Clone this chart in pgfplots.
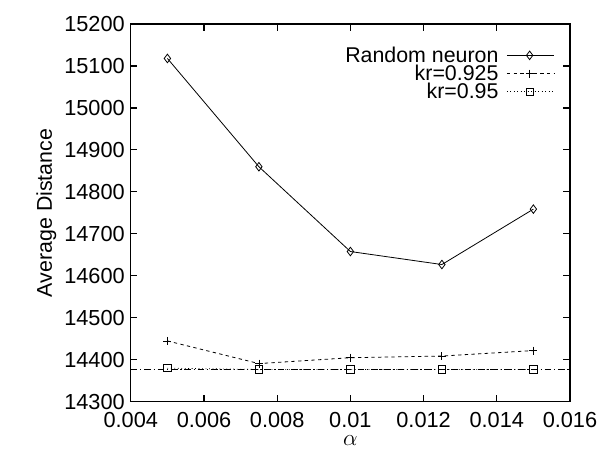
\documentclass[border=0pt]{standalone}
\usepackage{pgfplots}
\pgfplotsset{compat=1.18}
\usepackage{fontspec}
\setmainfont{Liberation Sans}
\begin{document}
\begin{tikzpicture}
\begin{axis}[
    scale only axis,
    width=329pt, height=283pt,
    xmin=0.004, xmax=0.016,
    ymin=14300, ymax=15200,
    xtick={0.004,0.006,0.008,0.01,0.012,0.014,0.016},
    xticklabels={0.004,0.006,0.008,0.01,0.012,0.014,0.016},
    ytick={14300,14400,...,15200},
    yticklabels={14300,14400,14500,14600,14700,14800,14900,15000,15100,15200},
    scaled x ticks=false,
    scaled y ticks=false,
    /pgf/number format/assume math mode=true,
    tick align=inside,
    major tick length=5pt,
    axis line style={line width=0.9pt},
    every tick/.style={line width=0.8pt},
    tick label style={font=\fontsize{16.3}{18}\selectfont},
    xticklabel style={yshift=-4pt},
    yticklabel style={xshift=-1pt},
    xlabel={$\alpha$},
    xlabel style={font=\fontsize{17}{18}\selectfont, yshift=1pt},
    ylabel={Average Distance},
    ylabel style={font=\fontsize{16}{18}\selectfont, yshift=-1pt},
    legend style={draw=none, fill=none, at={(0.975,0.955)}, anchor=north east,
        font=\fontsize{16}{15}\selectfont, row sep=-3.5pt, column sep=4pt},
    legend cell align=right,
    legend plot pos=right,
    legend image code/.code={
        \draw[mark repeat=2,mark phase=2,#1] plot coordinates {(0cm,0cm) (0.6cm,0cm) (1.25cm,0cm)};},
]

% Random neuron
\addplot[black, line width=0.6pt, mark=diamond, mark size=3.2pt, mark options={solid}] coordinates {
    (0.005,15118) (0.0075,14860) (0.01,14658) (0.0125,14627) (0.015,14759)};
\addlegendentry{Random neuron}

% kr=0.925
\addplot[black, line width=0.6pt, dash pattern=on 2.5pt off 2.5pt, mark=+, mark size=3pt, mark options={solid}] coordinates {
    (0.005,14445) (0.0075,14391) (0.01,14405) (0.0125,14409) (0.015,14422)};
\addlegendentry{kr=0.925}

% kr=0.95
\addplot[black, line width=0.6pt, dotted, mark=square, mark size=2.7pt, mark options={solid}] coordinates {
    (0.005,14380) (0.0075,14377) (0.01,14377) (0.0125,14377) (0.015,14377)};
\addlegendentry{kr=0.95}

% reference line
\addplot[black, line width=0.6pt, dash pattern=on 5pt off 2pt on 1pt off 2pt, forget plot] coordinates {
    (0.004,14377) (0.016,14377)};

\end{axis}
\pgfresetboundingbox
\path (current axis.south west) ++(-98pt,-36pt) coordinate (bbA);
\path (current axis.north east) ++(21pt,18pt) coordinate (bbB);
\useasboundingbox (bbA) rectangle (bbB);
\end{tikzpicture}
\end{document}
